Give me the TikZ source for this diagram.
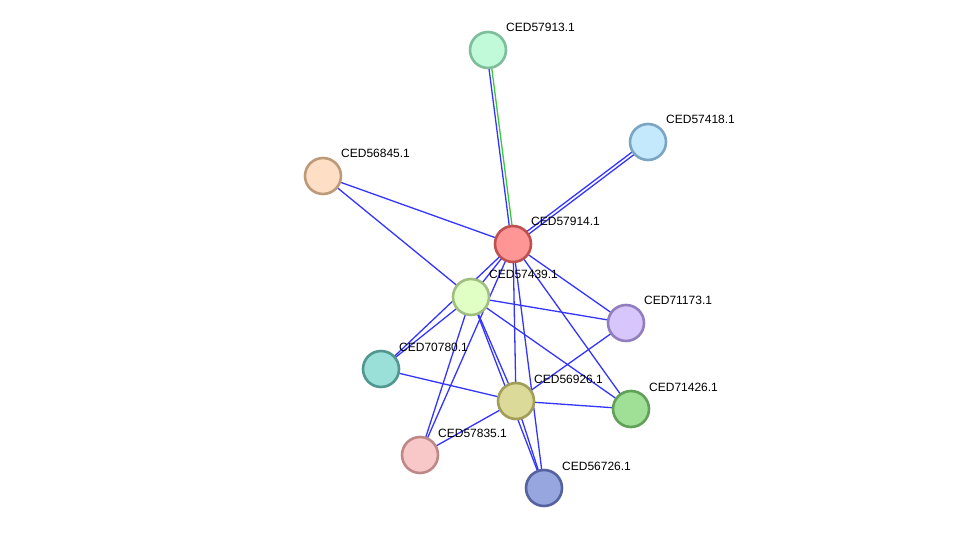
\documentclass[tikz,border=0pt]{standalone}
\usepackage{fontspec}
\setmainfont{Liberation Sans}
\usetikzlibrary{calc,backgrounds}
\definecolor{EdgeBlue}{RGB}{52,52,255}
\definecolor{EdgeGreen}{RGB}{60,200,60}

\begin{document}
\begin{tikzpicture}[x=1pt,y=-1pt,
  prot/.style={circle,minimum size=36pt,inner sep=0pt,line width=2.6pt},
  lbl/.style={anchor=base west,inner sep=0pt,font=\fontsize{12}{14}\selectfont},
  edge/.style={EdgeBlue,line width=1.3pt}]
  \useasboundingbox (0,0) rectangle (976,534);
  % proteins
  \node[prot,draw={rgb,255:red,126;green,190;blue,154},fill={rgb,255:red,193;green,250;blue,216}] (p57913) at (488,50) {};
  \node[prot,draw={rgb,255:red,122;green,166;blue,196},fill={rgb,255:red,196;green,232;blue,252}] (p57418) at (648,142) {};
  \node[prot,draw={rgb,255:red,190;green,154;blue,122},fill={rgb,255:red,254;green,222;blue,196}] (p56845) at (323,176) {};
  \node[prot,draw={rgb,255:red,190;green,80;blue,80},fill={rgb,255:red,255;green,150;blue,150}] (p57914) at (513,244) {};
  \node[prot,draw={rgb,255:red,160;green,190;blue,128},fill={rgb,255:red,224;green,255;blue,196}] (p57439) at (471,297) {};
  \node[prot,draw={rgb,255:red,146;green,126;blue,190},fill={rgb,255:red,214;green,198;blue,252}] (p71173) at (626,323) {};
  \node[prot,draw={rgb,255:red,82;green,150;blue,144},fill={rgb,255:red,154;green,224;blue,216}] (p70780) at (381,369) {};
  \node[prot,draw={rgb,255:red,160;green,158;blue,88},fill={rgb,255:red,220;green,218;blue,152}] (p56926) at (516,401) {};
  \node[prot,draw={rgb,255:red,96;green,160;blue,88},fill={rgb,255:red,160;green,224;blue,150}] (p71426) at (631,409) {};
  \node[prot,draw={rgb,255:red,190;green,136;blue,136},fill={rgb,255:red,248;green,200;blue,200}] (p57835) at (420,455) {};
  \node[prot,draw={rgb,255:red,86;green,98;blue,160},fill={rgb,255:red,152;green,166;blue,224}] (p56726) at (544,488) {};
  % labels
  \node[lbl] (l57913) at ($(p57913.center)+(18,-18)$) {CED57913.1};
  \node[lbl] (l57418) at ($(p57418.center)+(18,-18)$) {CED57418.1};
  \node[lbl] (l56845) at ($(p56845.center)+(18,-18)$) {CED56845.1};
  \node[lbl] (l57914) at ($(p57914.center)+(18,-18)$) {CED57914.1};
  \node[lbl] (l57439) at ($(p57439.center)+(18,-18)$) {CED57439.1};
  \node[lbl] (l71173) at ($(p71173.center)+(18,-18)$) {CED71173.1};
  \node[lbl] (l70780) at ($(p70780.center)+(18,-18)$) {CED70780.1};
  \node[lbl] (l56926) at ($(p56926.center)+(18,-18)$) {CED56926.1};
  \node[lbl] (l71426) at ($(p71426.center)+(18,-18)$) {CED71426.1};
  \node[lbl] (l57835) at ($(p57835.center)+(18,-18)$) {CED57835.1};
  \node[lbl] (l56726) at ($(p56726.center)+(18,-18)$) {CED56726.1};
  % interactions
  \begin{scope}[on background layer]
    \draw[edge] ($(p57913.center)!1.4pt!-90:(p57914.center)$) -- ($(p57914.center)!1.4pt!90:(p57913.center)$);
    \draw[EdgeGreen,line width=1.3pt] ($(p57913.center)!1.4pt!90:(p57914.center)$) -- ($(p57914.center)!1.4pt!-90:(p57913.center)$);
    \draw[edge] ($(p57418.center)!1.6pt!90:(p57914.center)$) -- ($(p57914.center)!1.6pt!-90:(p57418.center)$);
    \draw[edge] ($(p57418.center)!1.6pt!-90:(p57914.center)$) -- ($(p57914.center)!1.6pt!90:(p57418.center)$);
    \draw[edge] (p56845.center) -- (p57914.center);
    \draw[edge] (p56845.center) -- (p57439.center);
    \foreach \t in {p57439,p71173,p70780,p56926,p71426,p57835,p56726}
      \draw[edge] (p57914.center) -- (\t.center);
    \foreach \t in {p71173,p70780,p56926,p71426,p57835,p56726}
      \draw[edge] (p57439.center) -- (\t.center);
    \draw[edge] (p71173.center) -- (p56926.center);
    \foreach \t in {p70780,p71426,p57835,p56726}
      \draw[edge] (p56926.center) -- (\t.center);
  \end{scope}
\end{tikzpicture}
\end{document}
